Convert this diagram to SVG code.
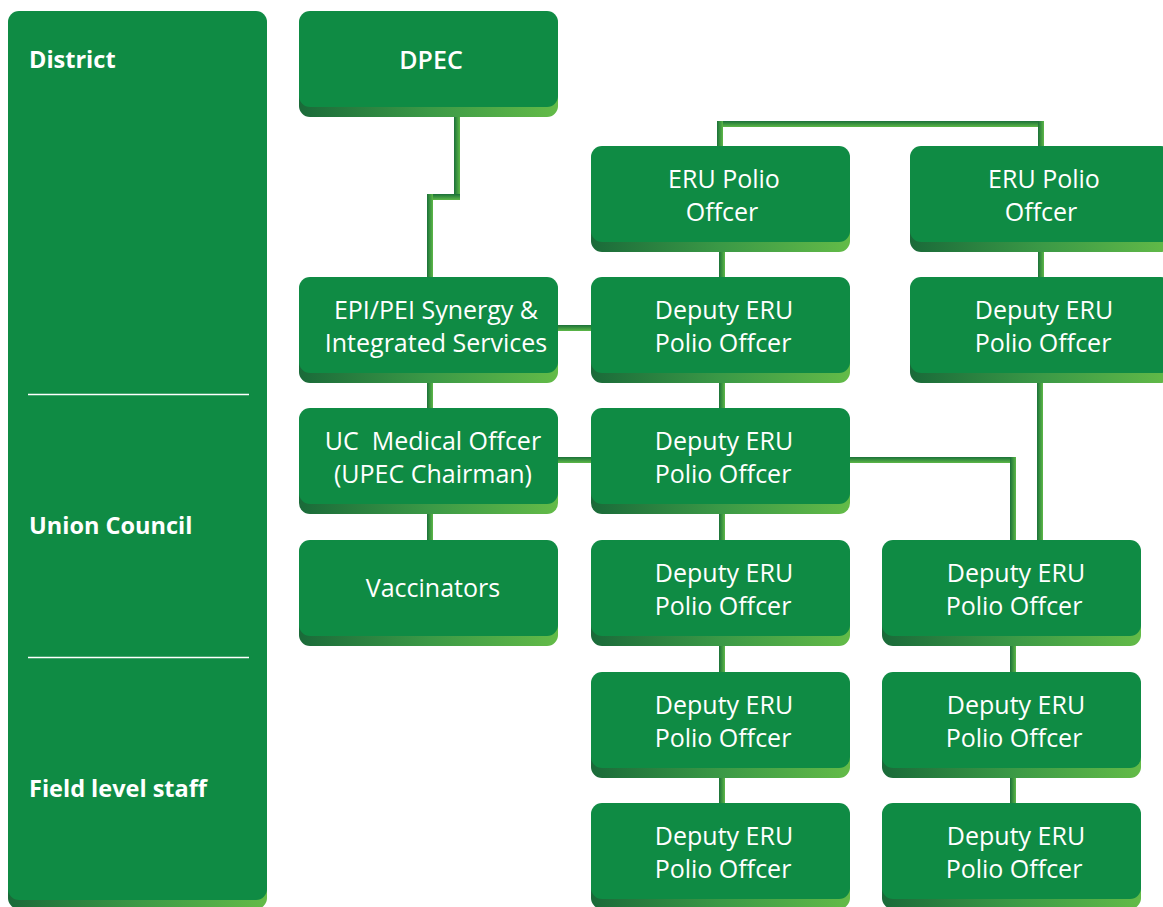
<svg xmlns="http://www.w3.org/2000/svg" width="1163" height="907" viewBox="0 0 1163 907">
<style>
.face{fill:#0F8B44}
.shadow{fill:url(#sg)}
.lv{fill:url(#gv)}
.lh{fill:url(#gh)}
.t{font-family:'Open Sans','Liberation Sans',sans-serif;font-size:25px;fill:#fff;text-anchor:middle}
.b{font-weight:600;font-size:25px}
.lab{font-family:'Open Sans','Liberation Sans',sans-serif;font-size:23.5px;font-weight:700;fill:#fff}
.div{stroke:#fff;stroke-width:1.5}
</style>
<defs>
<linearGradient id="sg" x1="0" y1="0" x2="1" y2="0">
<stop offset="0" stop-color="#1A6A39"/>
<stop offset="0.5" stop-color="#3B9946"/>
<stop offset="1" stop-color="#63BB48"/>
</linearGradient>
<linearGradient id="gv" x1="0" y1="0" x2="1" y2="0">
<stop offset="0" stop-color="#1B7139"/>
<stop offset="1" stop-color="#5DB848"/>
</linearGradient>
<linearGradient id="gh" x1="0" y1="0" x2="0" y2="1">
<stop offset="0" stop-color="#1B7139"/>
<stop offset="1" stop-color="#5DB848"/>
</linearGradient>
</defs>
<rect width="1163" height="907" fill="#fff"/>

<g id="panel">
<rect class="shadow" x="8" y="20" width="259" height="889" rx="11"/>
<rect class="face" x="8" y="11" width="259" height="889" rx="11"/>
<line class="div" x1="28" y1="394.5" x2="249" y2="394.5"/>
<line class="div" x1="28" y1="657.5" x2="249" y2="657.5"/>
<text class="lab" x="29" y="68">District</text>
<text class="lab" x="29" y="534">Union Council</text>
<text class="lab" x="29" y="797">Field level staff</text>
</g>

<g id="connectors">
<rect class="lv" x="454" y="106" width="6" height="94"/>
<rect class="lh" x="427" y="194" width="33" height="6"/>
<rect class="lv" x="427" y="194" width="6" height="84"/>
<rect class="lh" x="717" y="121" width="327" height="6"/>
<rect class="lv" x="717" y="121" width="6" height="26"/>
<rect class="lv" x="1038" y="121" width="6" height="26"/>
<rect class="lv" x="719" y="250" width="6" height="28"/>
<rect class="lv" x="1038" y="250" width="6" height="28"/>
<rect class="lh" x="557" y="325" width="35" height="6"/>
<rect class="lv" x="427" y="381" width="6" height="28"/>
<rect class="lv" x="719" y="381" width="6" height="28"/>
<rect class="lh" x="557" y="457" width="35" height="6"/>
<rect class="lh" x="850" y="457" width="166" height="6"/>
<rect class="lv" x="1010" y="457" width="6" height="84"/>
<rect class="lv" x="1037" y="381" width="6" height="160"/>
<rect class="lv" x="427" y="513" width="6" height="28"/>
<rect class="lv" x="719" y="513" width="6" height="28"/>
<rect class="lv" x="719" y="644" width="6" height="29"/>
<rect class="lv" x="719" y="776" width="6" height="28"/>
<rect class="lv" x="1010" y="644" width="6" height="29"/>
<rect class="lv" x="1010" y="776" width="6" height="28"/>
</g>

<g id="dpec">
<rect class="shadow" x="299" y="21" width="259" height="96" rx="11"/>
<rect class="face" x="299" y="11" width="259" height="96" rx="11"/>
<text class="t b" x="431" y="69">DPEC</text>
</g>

<g id="eru1">
<rect class="shadow" x="591" y="156" width="259" height="96" rx="11"/>
<rect class="face" x="591" y="146" width="259" height="96" rx="11"/>
<text class="t" x="724" y="188">ERU Polio</text>
<text class="t" x="722" y="221">Offcer</text>
</g>

<g id="eru2">
<rect class="shadow" x="910" y="156" width="262" height="96" rx="11"/>
<rect class="face" x="910" y="146" width="262" height="96" rx="11"/>
<text class="t" x="1044" y="188">ERU Polio</text>
<text class="t" x="1041" y="221">Offcer</text>
</g>

<g id="epi">
<rect class="shadow" x="299" y="287" width="259" height="96" rx="11"/>
<rect class="face" x="299" y="277" width="259" height="96" rx="11"/>
<text class="t" x="436" y="319">EPI/PEI Synergy &amp;</text>
<text class="t" x="436" y="352">Integrated Services</text>
</g>

<g id="dep-b2">
<rect class="shadow" x="591" y="287" width="259" height="96" rx="11"/>
<rect class="face" x="591" y="277" width="259" height="96" rx="11"/>
<text class="t" x="724" y="319">Deputy ERU</text>
<text class="t" x="723" y="352">Polio Offcer</text>
</g>

<g id="dep-c2">
<rect class="shadow" x="910" y="287" width="262" height="96" rx="11"/>
<rect class="face" x="910" y="277" width="262" height="96" rx="11"/>
<text class="t" x="1044" y="319">Deputy ERU</text>
<text class="t" x="1043" y="352">Polio Offcer</text>
</g>

<g id="ucmo">
<rect class="shadow" x="299" y="418" width="259" height="96" rx="11"/>
<rect class="face" x="299" y="408" width="259" height="96" rx="11"/>
<text class="t" x="433" y="450" xml:space="preserve">UC  Medical Offcer</text>
<text class="t" x="433" y="483">(UPEC Chairman)</text>
</g>

<g id="dep-b3">
<rect class="shadow" x="591" y="418" width="259" height="96" rx="11"/>
<rect class="face" x="591" y="408" width="259" height="96" rx="11"/>
<text class="t" x="724" y="450">Deputy ERU</text>
<text class="t" x="723" y="483">Polio Offcer</text>
</g>

<g id="vacc">
<rect class="shadow" x="299" y="550" width="259" height="96" rx="11"/>
<rect class="face" x="299" y="540" width="259" height="96" rx="11"/>
<text class="t" x="433" y="597">Vaccinators</text>
</g>

<g id="dep-b4">
<rect class="shadow" x="591" y="550" width="259" height="96" rx="11"/>
<rect class="face" x="591" y="540" width="259" height="96" rx="11"/>
<text class="t" x="724" y="582">Deputy ERU</text>
<text class="t" x="723" y="615">Polio Offcer</text>
</g>

<g id="dep-c4">
<rect class="shadow" x="882" y="550" width="259" height="96" rx="11"/>
<rect class="face" x="882" y="540" width="259" height="96" rx="11"/>
<text class="t" x="1016" y="582">Deputy ERU</text>
<text class="t" x="1014" y="615">Polio Offcer</text>
</g>

<g id="dep-b5">
<rect class="shadow" x="591" y="682" width="259" height="96" rx="11"/>
<rect class="face" x="591" y="672" width="259" height="96" rx="11"/>
<text class="t" x="724" y="714">Deputy ERU</text>
<text class="t" x="723" y="747">Polio Offcer</text>
</g>

<g id="dep-c5">
<rect class="shadow" x="882" y="682" width="259" height="96" rx="11"/>
<rect class="face" x="882" y="672" width="259" height="96" rx="11"/>
<text class="t" x="1016" y="714">Deputy ERU</text>
<text class="t" x="1014" y="747">Polio Offcer</text>
</g>

<g id="dep-b6">
<rect class="shadow" x="591" y="813" width="259" height="96" rx="11"/>
<rect class="face" x="591" y="803" width="259" height="96" rx="11"/>
<text class="t" x="724" y="845">Deputy ERU</text>
<text class="t" x="723" y="878">Polio Offcer</text>
</g>

<g id="dep-c6">
<rect class="shadow" x="882" y="813" width="259" height="96" rx="11"/>
<rect class="face" x="882" y="803" width="259" height="96" rx="11"/>
<text class="t" x="1016" y="845">Deputy ERU</text>
<text class="t" x="1014" y="878">Polio Offcer</text>
</g>
</svg>
